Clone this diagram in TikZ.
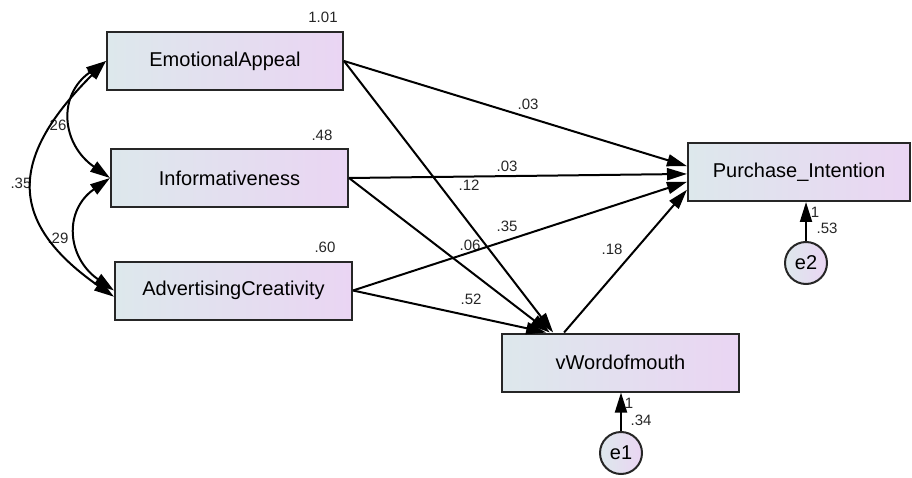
\documentclass[tikz,border=0pt]{standalone}
\usepackage{fontspec}
\setmainfont{Liberation Sans}
\usetikzlibrary{arrows.meta, positioning, calc}
\definecolor{amosleft}{RGB}{221,232,236}
\definecolor{amosright}{RGB}{234,213,243}
\tikzset{
  varbox/.style={draw=black!85, line width=2pt, minimum height=58pt,
    inner sep=0pt, left color=amosleft, right color=amosright,
    font=\fontsize{20}{22}\selectfont},
  errnode/.style={circle, draw=black!85, line width=2pt, minimum size=42pt,
    inner sep=0pt, left color=amosleft, right color=amosright,
    font=\fontsize{20}{22}\selectfont},
  estlabel/.style={font=\fontsize{15}{17}\selectfont, text=black!85, inner sep=0pt},
  regarrow/.style={-{Triangle[length=20pt,width=12pt]}, line width=2pt},
  covarrow/.style={{Triangle[length=20pt,width=12pt]}-{Triangle[length=20pt,width=12pt]},
    line width=2pt}
}

\begin{document}
\begin{tikzpicture}[x=1pt, y=-1pt]
        \useasboundingbox (0,0) rectangle (912,478);
        % Observed variables
        \node[varbox, minimum width=236pt] (emo) at (225,61) {EmotionalAppeal};
        \node[varbox, minimum width=237pt] (info) at (229.5,178) {Informativeness};
        \node[varbox, minimum width=237pt] (adcr) at (233.5,290.5) {AdvertisingCreativity};
        \node[varbox, minimum width=222pt] (pi) at (799,172) {Purchase\_Intention};
        \node[varbox, minimum width=237pt] (wom) at (620.5,362.5) {vWordofmouth};
        % Error terms
        \node[errnode] (e2) at (806,263) {e2};
        \node[errnode] (e1) at (621,453) {e1};
        % Variances
        \node[estlabel] (v1) at (323,17) {1.01};
        \node[estlabel] (v2) at (322,135) {.48};
        \node[estlabel] (v3) at (325,247) {.60};
        % Covariances
        \node[estlabel] (c1) at (56,125) {.26};
        \node[estlabel] (c2) at (21,183) {.35};
        \node[estlabel] (c3) at (58,238) {.29};
        % Path estimates
        \node[estlabel] (p1) at (528,104) {.03};
        \node[estlabel] (p2) at (507,166) {.03};
        \node[estlabel] (p3) at (469,185) {.12};
        \node[estlabel] (p4) at (507,226) {.35};
        \node[estlabel] (p5) at (470,245) {.06};
        \node[estlabel] (p6) at (471,299) {.52};
        \node[estlabel] (p7) at (612,249) {.18};
        \node[estlabel] (w2) at (815,212) {1};
        \node[estlabel] (r2) at (827,228) {.53};
        \node[estlabel] (w1) at (629,403) {1};
        \node[estlabel] (r1) at (641,420) {.34};
        % Regression paths
        \draw[regarrow] (emo.east) -- (pi.177);
        \draw[regarrow] (emo.east) -- (wom.156);
        \draw[regarrow] (info.east) -- (pi.181);
        \draw[regarrow] (info.east) -- (wom.157);
        \draw[regarrow] (adcr.east) -- (pi.185);
        \draw[regarrow] (adcr.east) -- (wom.158);
        \draw[regarrow] (wom.152) -- (pi.189);
        \draw[regarrow] (e2) -- (e2 |- pi.south);
        \draw[regarrow] (e1) -- (e1 |- wom.south);
        % Covariance arcs
        \draw[covarrow] (emo.west) to[out=215, in=145, looseness=1.3] (info.west);
        \draw[covarrow] (info.west) to[out=215, in=145, looseness=1.3] (adcr.west);
        \draw[covarrow] (emo.west) to[out=225, in=145, looseness=1.45] (adcr.183);
      \end{tikzpicture}
\end{document}
